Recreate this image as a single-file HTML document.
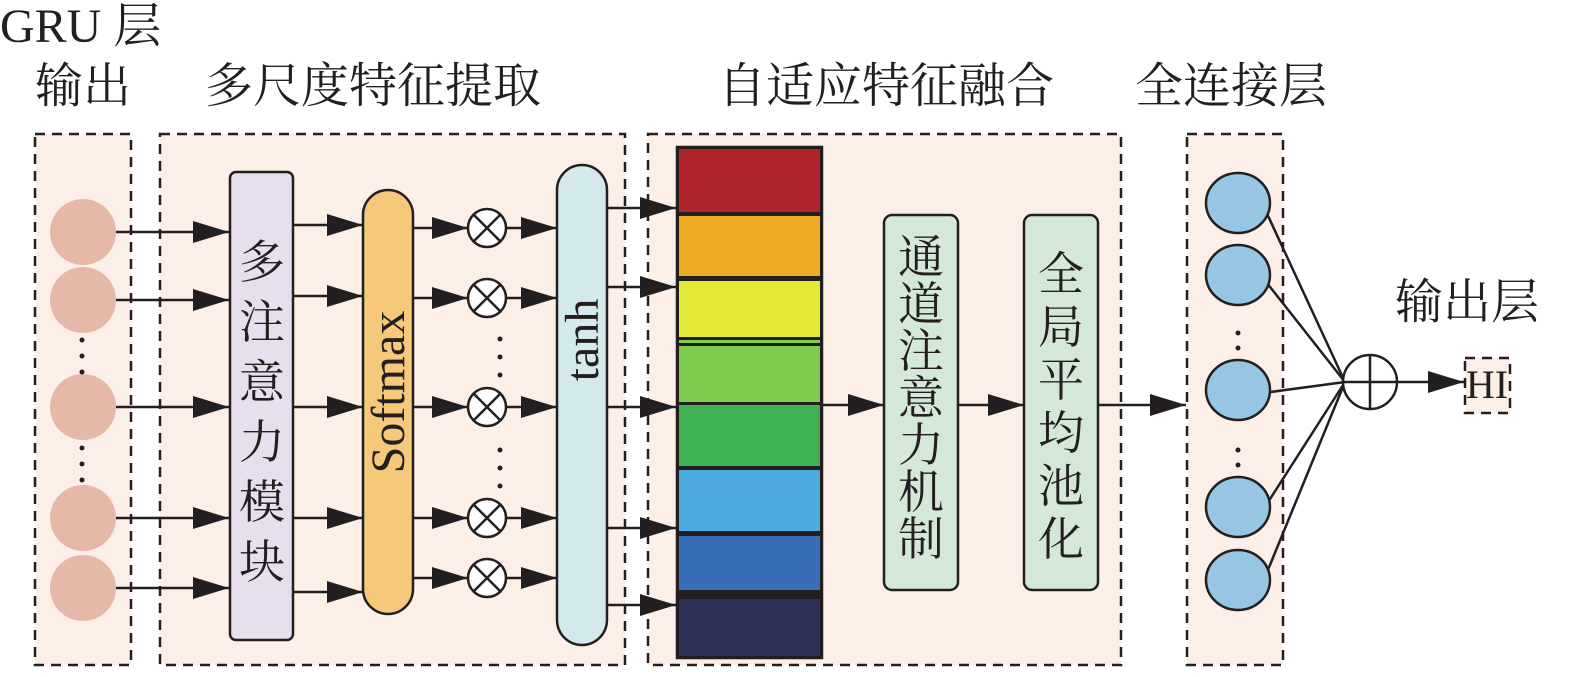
<!DOCTYPE html>
<html><head><meta charset="utf-8"><style>
body{margin:0;background:#fff;width:1575px;height:672px;overflow:hidden}
text{font-family:"Liberation Serif","Noto Serif CJK SC",serif;fill:#231f20}
</style></head><body>
<svg width="1575" height="672" viewBox="0 0 1575 672" xmlns="http://www.w3.org/2000/svg">
<defs><marker id="b" markerWidth="36" markerHeight="22" refX="36" refY="11" orient="auto" markerUnits="userSpaceOnUse"><path d="M0,0L36,11L0,22z" fill="#231f20"/></marker></defs>
<g font-size="48">
<text x="0" y="42">GRU 层</text>
<text x="35" y="102">输出</text>
<text x="205" y="102">多尺度特征提取</text>
<text x="718" y="102">自适应特征融合</text>
<text x="1135" y="102">全连接层</text>
<text x="1395" y="318">输出层</text>
</g>
<g fill="#fcefe7" stroke="#231f20" stroke-width="2.5" stroke-dasharray="10,7">
<rect x="35" y="134" width="96" height="531"/>
<rect x="160" y="134" width="465" height="531"/>
<rect x="648" y="134" width="473" height="531"/>
<rect x="1187" y="134" width="96" height="531"/>
<rect x="1465" y="358" width="45" height="55"/>
</g>
<g fill="#e6b8a8">
<ellipse cx="83" cy="232" rx="33" ry="33"/><ellipse cx="83" cy="300" rx="33" ry="33"/><ellipse cx="83" cy="407" rx="33" ry="33"/><ellipse cx="83" cy="518" rx="33" ry="33"/><ellipse cx="83" cy="588" rx="33" ry="33"/>
</g>
<g fill="#231f20"><circle cx="82" cy="340" r="2.5"/><circle cx="82" cy="356" r="2.5"/><circle cx="82" cy="372" r="2.5"/><circle cx="82" cy="448" r="2.5"/><circle cx="82" cy="464" r="2.5"/><circle cx="82" cy="480" r="2.5"/>
<circle cx="500" cy="375" r="2.5"/><circle cx="500" cy="357" r="2.5"/><circle cx="500" cy="339" r="2.5"/><circle cx="500" cy="450" r="2.5"/><circle cx="500" cy="468" r="2.5"/><circle cx="500" cy="486" r="2.5"/>
<circle cx="1238" cy="333" r="2.5"/><circle cx="1238" cy="348" r="2.5"/><circle cx="1238" cy="363" r="2.5"/><circle cx="1238" cy="450" r="2.5"/><circle cx="1238" cy="465" r="2.5"/><circle cx="1238" cy="480" r="2.5"/></g>
<g stroke="#231f20" stroke-width="2.5" marker-end="url(#b)">
<line x1="116" y1="232" x2="229" y2="232"/><line x1="116" y1="300" x2="229" y2="300"/><line x1="116" y1="407" x2="229" y2="407"/><line x1="116" y1="518" x2="229" y2="518"/><line x1="116" y1="588" x2="229" y2="588"/>
<line x1="294" y1="225" x2="363" y2="225"/><line x1="294" y1="296" x2="363" y2="296"/><line x1="294" y1="407" x2="363" y2="407"/><line x1="294" y1="518" x2="363" y2="518"/><line x1="294" y1="592" x2="363" y2="592"/>
<line x1="414" y1="228" x2="468" y2="228"/><line x1="414" y1="298" x2="468" y2="298"/><line x1="414" y1="407" x2="468" y2="407"/><line x1="414" y1="518" x2="468" y2="518"/><line x1="414" y1="578" x2="468" y2="578"/>
<line x1="506" y1="228" x2="557" y2="228"/><line x1="506" y1="298" x2="557" y2="298"/><line x1="506" y1="407" x2="557" y2="407"/><line x1="506" y1="518" x2="557" y2="518"/><line x1="506" y1="578" x2="557" y2="578"/>
<line x1="607" y1="208" x2="676" y2="208"/><line x1="607" y1="287" x2="676" y2="287"/><line x1="607" y1="407" x2="676" y2="407"/><line x1="607" y1="528" x2="676" y2="528"/><line x1="607" y1="605" x2="676" y2="605"/>
<line x1="822" y1="405" x2="884" y2="405"/><line x1="958" y1="405" x2="1024" y2="405"/><line x1="1098" y1="405" x2="1186" y2="405"/><line x1="1397" y1="382" x2="1464" y2="382"/>
</g>
<rect x="230" y="172" width="63" height="468" rx="6" fill="#e8dfee" stroke="#231f20" stroke-width="2.5"/>
<rect x="363" y="190" width="50" height="424" rx="25" fill="#f6c97a" stroke="#231f20" stroke-width="2.5"/>
<rect x="557" y="165" width="50" height="480" rx="25" fill="#d4e9ec" stroke="#231f20" stroke-width="2.5"/>
<g stroke="#231f20" stroke-width="2.5" fill="#fff">
<g id="o"><circle cx="487" cy="228" r="19"/><path d="M474,215L500,241M500,215L474,241"/></g>
<use href="#o" y="70"/><use href="#o" y="179"/><use href="#o" y="290"/><use href="#o" y="350"/>
</g>
<g font-size="46" text-anchor="middle"><text x="262" y="278">多</text><text x="262" y="338">注</text><text x="262" y="398">意</text><text x="262" y="458">力</text><text x="262" y="518">模</text><text x="262" y="578">块</text></g>
<text font-size="48" text-anchor="middle" transform="translate(404,392) rotate(-90)">Softmax</text>
<text font-size="48" text-anchor="middle" transform="translate(598,340) rotate(-90)">tanh</text>
<g stroke="#231f20" stroke-width="2.5">
<rect x="677" y="147" width="145" height="511" fill="#231f20"/>
<rect x="679" y="149" width="141" height="63" fill="#b0242b" stroke="none"/>
<rect x="679" y="216" width="141" height="60" fill="#f0ab24" stroke="none"/>
<rect x="679" y="281" width="141" height="56" fill="#e4eb36" stroke="none"/>
<rect x="679" y="340" width="141" height="3" fill="#7fcc50" stroke="none"/>
<rect x="679" y="346" width="141" height="56" fill="#7fcc50" stroke="none"/>
<rect x="679" y="405" width="141" height="61" fill="#3fb150" stroke="none"/>
<rect x="679" y="470" width="141" height="61" fill="#4ea9de" stroke="none"/>
<rect x="679" y="536" width="141" height="54" fill="#3a6db7" stroke="none"/>
<rect x="679" y="599" width="141" height="57" fill="#2d3057" stroke="none"/>
</g>
<rect x="884" y="215" width="74" height="375" rx="8" fill="#d3e8d7" stroke="#231f20" stroke-width="2.5"/>
<rect x="1024" y="215" width="74" height="375" rx="8" fill="#d3e8d7" stroke="#231f20" stroke-width="2.5"/>
<g font-size="46" text-anchor="middle"><text x="921" y="273">通</text><text x="921" y="320">道</text><text x="921" y="367">注</text><text x="921" y="414">意</text><text x="921" y="461">力</text><text x="921" y="508">机</text><text x="921" y="555">制</text>
<text x="1061" y="290">全</text><text x="1061" y="343">局</text><text x="1061" y="396">平</text><text x="1061" y="449">均</text><text x="1061" y="502">池</text><text x="1061" y="555">化</text></g>
<g stroke="#231f20" stroke-width="2.5">
<line x1="1263" y1="205" x2="1345" y2="382"/><line x1="1263" y1="278" x2="1345" y2="382"/><line x1="1263" y1="393" x2="1345" y2="382"/><line x1="1263" y1="510" x2="1345" y2="382"/><line x1="1263" y1="582" x2="1345" y2="382"/>
<g fill="#96c6e3"><ellipse cx="1238" cy="203" rx="32" ry="30"/><ellipse cx="1238" cy="275" rx="32" ry="30"/><ellipse cx="1238" cy="390" rx="32" ry="30"/><ellipse cx="1238" cy="507" rx="32" ry="30"/><ellipse cx="1238" cy="580" rx="32" ry="30"/></g>
<circle cx="1370" cy="382" r="27" fill="#fff"/><path d="M1343,382H1397M1370,355V409"/>
</g>
<text x="1487" y="398" font-size="40" text-anchor="middle">HI</text>
</svg>
</body></html>
